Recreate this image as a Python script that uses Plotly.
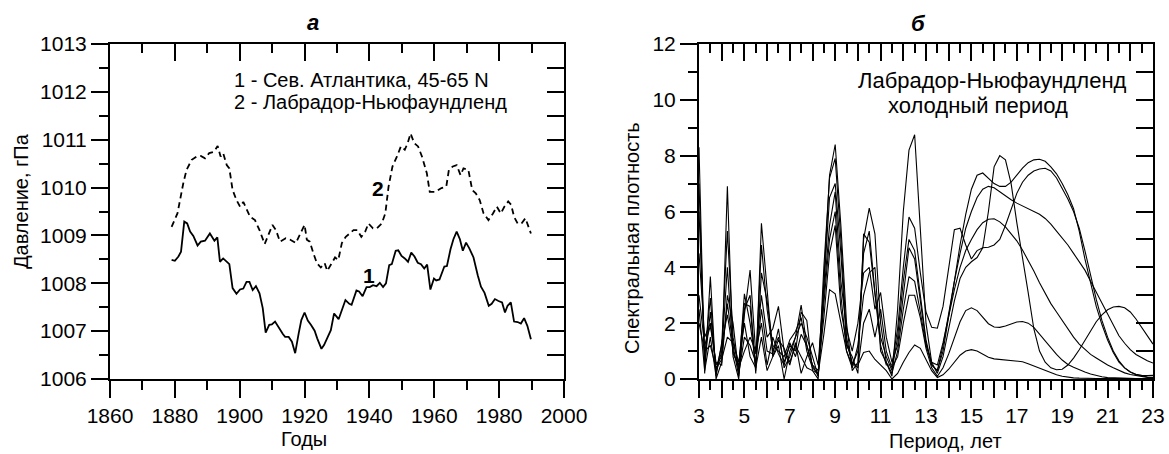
import plotly.graph_objects as go

# ---------------- Panel а: pressure series ----------------
years_1 = [1879.0, 1880.0, 1881.1, 1881.9, 1882.9, 1883.8, 1884.7, 1885.7, 1887.0, 1888.0,
           1889.3, 1890.8, 1892.2, 1893.1, 1893.9, 1894.9, 1896.8, 1897.8, 1899.0, 1900.1,
           1901.1, 1902.1, 1903.0, 1904.0, 1905.0, 1906.1, 1907.1, 1908.0, 1909.1, 1909.9,
           1910.9, 1912.3, 1913.3, 1914.0, 1915.1, 1916.1, 1917.1, 1918.2, 1919.0, 1920.0,
           1921.0, 1922.0, 1923.1, 1923.9, 1925.2, 1926.0, 1927.0, 1928.1, 1929.1, 1930.5,
           1932.6, 1933.8, 1934.5, 1936.0, 1936.8, 1937.9, 1939.1, 1940.1, 1941.1, 1942.2,
           1943.2, 1944.2, 1945.1, 1946.1, 1946.9, 1948.1, 1948.9, 1949.9, 1950.9, 1951.9,
           1952.9, 1953.9, 1954.9, 1955.9, 1956.9, 1957.8, 1958.8, 1959.9, 1960.6, 1961.6,
           1963.1, 1963.9, 1965.0, 1965.9, 1966.9, 1967.9, 1968.8, 1969.8, 1970.8, 1972.1,
           1973.4, 1974.4, 1975.5, 1976.8, 1977.7, 1978.7, 1979.8, 1980.9, 1981.8, 1982.6,
           1983.6, 1984.6, 1985.7, 1986.7, 1987.7, 1988.7, 1989.8]
pressure_1 = [1008.49, 1008.47, 1008.56, 1008.66, 1009.29, 1009.25, 1009.08, 1008.99, 1008.79, 1008.87,
              1008.89, 1009.04, 1008.89, 1008.96, 1008.45, 1008.52, 1008.40, 1007.90, 1007.78, 1007.87,
              1007.89, 1008.03, 1008.03, 1007.86, 1007.94, 1007.79, 1007.48, 1006.97, 1007.13, 1007.14,
              1007.20, 1007.04, 1006.94, 1006.88, 1006.88, 1006.78, 1006.54, 1006.96, 1007.23, 1007.39,
              1007.22, 1007.13, 1007.01, 1006.85, 1006.63, 1006.71, 1006.86, 1007.02, 1007.37, 1007.25,
              1007.65, 1007.57, 1007.55, 1007.85, 1007.83, 1007.73, 1007.92, 1007.92, 1007.96, 1007.94,
              1008.01, 1007.92, 1008.00, 1008.38, 1008.40, 1008.68, 1008.69, 1008.57, 1008.52, 1008.45,
              1008.64, 1008.56, 1008.43, 1008.40, 1008.31, 1008.39, 1007.87, 1008.10, 1008.06, 1008.08,
              1008.35, 1008.36, 1008.71, 1008.92, 1009.08, 1008.92, 1008.68, 1008.85, 1008.73, 1008.54,
              1008.17, 1007.93, 1007.80, 1007.53, 1007.57, 1007.67, 1007.63, 1007.60, 1007.39, 1007.53,
              1007.60, 1007.20, 1007.19, 1007.16, 1007.27, 1007.11, 1006.83]

years_2 = [1879.0, 1880.8, 1882.6, 1883.6, 1885.2, 1886.7, 1888.0, 1889.3, 1890.6, 1892.1,
           1893.2, 1894.1, 1894.9, 1896.0, 1896.8, 1897.8, 1899.0, 1900.1, 1901.1, 1902.6,
           1903.2, 1904.7, 1906.1, 1907.7, 1908.6, 1910.1, 1911.2, 1912.4, 1914.2, 1915.6,
           1917.3, 1918.7, 1920.0, 1920.7, 1921.6, 1922.7, 1923.8, 1925.0, 1926.2, 1927.0,
           1928.0, 1929.4, 1930.4, 1931.5, 1932.7, 1933.9, 1935.1, 1936.3, 1937.5, 1938.7,
           1939.7, 1941.1, 1942.3, 1943.8, 1944.9, 1945.9, 1947.1, 1948.5, 1949.7, 1950.9,
           1951.8, 1952.7, 1953.8, 1955.0, 1956.2, 1957.7, 1958.6, 1960.4, 1962.2, 1963.7,
           1964.5, 1965.7, 1966.9, 1968.1, 1969.0, 1970.5, 1971.7, 1972.8, 1974.0, 1975.2,
           1976.7, 1978.1, 1979.3, 1980.5, 1981.6, 1982.8, 1983.7, 1984.6, 1985.7, 1986.9,
           1988.1, 1989.8]
pressure_2 = [1009.18, 1009.46, 1010.09, 1010.37, 1010.58, 1010.65, 1010.66, 1010.61, 1010.72, 1010.75,
              1010.87, 1010.65, 1010.72, 1010.47, 1010.40, 1009.95, 1009.74, 1009.60, 1009.70, 1009.46,
              1009.39, 1009.32, 1009.11, 1008.82, 1008.97, 1009.22, 1009.11, 1008.87, 1008.94, 1008.91,
              1008.84, 1009.05, 1009.22, 1008.91, 1008.87, 1008.63, 1008.42, 1008.33, 1008.42, 1008.26,
              1008.39, 1008.54, 1008.49, 1008.84, 1008.97, 1009.04, 1009.11, 1009.11, 1008.97, 1009.08,
              1009.25, 1009.15, 1009.15, 1009.25, 1009.46, 1010.02, 1010.44, 1010.65, 1010.86, 1010.79,
              1010.93, 1011.13, 1010.93, 1010.86, 1010.65, 1010.30, 1009.91, 1009.91, 1009.99, 1010.02,
              1010.37, 1010.44, 1010.47, 1010.26, 1010.40, 1010.37, 1009.95, 1009.88, 1009.74, 1009.46,
              1009.32, 1009.46, 1009.60, 1009.46, 1009.60, 1009.71, 1009.64, 1009.39, 1009.25, 1009.25,
              1009.36, 1009.04]

# ---------------- Panel б: spectral density ----------------
periods = [3.0, 3.25, 3.5, 3.75, 4.0, 4.25, 4.5, 4.75, 5.0, 5.25, 5.5, 5.75, 6.0, 6.25, 6.5, 6.75,
           7.0, 7.25, 7.5, 7.75, 8.0, 8.25, 8.5, 8.75, 9.0, 9.25, 9.5, 9.75, 10.0, 10.25, 10.5, 10.75,
           11.0, 11.25, 11.5, 11.75, 12.0, 12.25, 12.5, 12.75, 13.0, 13.25, 13.5, 13.75, 14.0, 14.25,
           14.5, 14.75, 15.0, 15.25, 15.5, 15.75, 16.0, 16.25, 16.5, 16.75, 17.0, 17.25, 17.5, 17.75,
           18.0, 18.25, 18.5, 18.75, 19.0, 19.25, 19.5, 19.75, 20.0, 20.25, 20.5, 20.75, 21.0, 21.25,
           21.5, 21.75, 22.0, 22.25, 22.5, 22.75, 23.0]

spec_1 = [8.3, 0.2, 3.67, 0.0, 0.6, 6.9, 0.8, 0.0, 2.5, 3.0, 0.2, 5.58, 3.2, 0.8, 1.2, 0.0,
          1.0, 1.5, 2.65, 1.2, 0.5, 0.1, 3.5, 7.3, 8.4, 5.5, 2.0, 0.3, 0.6, 5.0, 6.12, 5.2,
          2.0, 0.6, 0.1, 2.5, 6.0, 8.2, 8.75, 5.5, 2.0, 0.6, 0.2, 0.8, 1.8, 2.8,
          3.6, 4.0, 4.2, 4.35, 4.7, 6.0, 7.6, 8.0, 7.85, 7.0, 5.6, 4.4, 3.1, 1.8,
          1.0, 0.6, 0.4, 0.33, 0.35, 0.5, 0.75, 1.05, 1.4, 1.75, 2.05, 2.3, 2.48, 2.58,
          2.6, 2.55, 2.4, 2.15, 1.85, 1.55, 1.25]
spec_2 = [7.0, 0.5, 2.4, 0.3, 1.2, 5.3, 1.5, 0.3, 3.05, 2.0, 0.5, 4.8, 2.5, 1.0, 1.5, 0.6,
          1.2, 1.0, 2.4, 2.1, 0.3, 0.0, 4.0, 7.2, 7.9, 5.0, 1.5, 0.5, 1.0, 4.5, 5.3, 3.1,
          1.5, 0.8, 0.3, 1.5, 3.5, 5.0, 4.6, 3.0, 1.4, 0.5, 0.3, 1.0, 2.2, 3.5,
          4.8, 5.9, 6.8, 7.3, 7.38, 7.2, 7.0, 6.9, 6.9, 7.05, 7.3, 7.55, 7.75, 7.85,
          7.87, 7.8, 7.6, 7.35, 7.0, 6.6, 6.1, 5.3, 4.3, 3.4, 2.6, 1.95, 1.4, 0.95,
          0.6, 0.4, 0.25, 0.15, 0.1, 0.07, 0.06]
spec_3 = [4.5, 1.5, 2.0, 0.5, 0.8, 2.7, 1.2, 0.1, 2.3, 3.9, 0.9, 3.0, 1.5, 1.8, 2.6, 1.0,
          0.5, 1.3, 0.2, 0.8, 1.3, 0.5, 3.3, 6.5, 7.0, 4.5, 1.2, 0.8, 0.2, 5.2, 4.9, 3.0,
          1.2, 0.5, 0.5, 1.8, 4.0, 5.8, 5.4, 3.8, 2.4, 1.85, 1.82, 2.6, 4.0, 5.35,
          5.4, 4.8, 4.3, 4.6, 4.7, 4.72, 4.8, 5.0, 5.5, 6.1, 6.65, 7.05, 7.3, 7.45,
          7.52, 7.55, 7.45, 7.2, 6.85, 6.45, 6.0, 5.4, 4.6, 3.7, 2.85, 2.1, 1.5, 1.0,
          0.65, 0.4, 0.25, 0.17, 0.13, 0.12, 0.13]
spec_4 = [6.0, 0.8, 2.9, 0.2, 1.0, 4.0, 0.9, 0.5, 2.7, 2.6, 0.3, 3.8, 2.8, 1.2, 1.0, 0.8,
          1.4, 1.7, 2.2, 1.0, 0.4, 0.2, 3.0, 5.5, 6.7, 3.5, 1.8, 1.0, 2.0, 3.8, 4.0, 2.5,
          3.1, 1.5, 0.6, 1.2, 3.0, 4.7, 4.3, 2.8, 1.3, 0.5, 0.3, 1.2, 2.4, 3.5,
          4.5, 5.4, 6.0, 6.5, 6.8, 6.9, 6.85, 6.7, 6.55, 6.42, 6.3, 6.2, 6.1, 6.0,
          5.9, 5.75, 5.55, 5.3, 5.05, 4.8, 4.5, 4.2, 3.9, 3.5, 3.1, 2.7, 2.3, 1.9,
          1.55, 1.28, 1.05, 0.88, 0.75, 0.65, 0.57]
spec_5 = [3.0, 1.2, 1.9, 0.6, 0.5, 3.0, 2.0, 0.2, 1.5, 1.2, 0.6, 2.5, 1.0, 0.9, 1.8, 0.4,
          0.8, 1.5, 2.0, 1.5, 0.8, 0.1, 2.7, 5.0, 6.0, 3.0, 1.0, 0.4, 1.2, 3.0, 3.8, 4.0,
          1.0, 0.6, 0.2, 1.0, 2.5, 3.67, 3.5, 2.4, 1.2, 0.6, 0.5, 1.3, 2.3, 3.2,
          4.0, 4.6, 5.0, 5.35, 5.6, 5.72, 5.74, 5.63, 5.45, 5.22, 4.95, 4.62, 4.25, 3.87,
          3.45, 3.05, 2.7, 2.4, 2.1, 1.8, 1.5, 1.25, 1.05, 0.88, 0.75, 0.62, 0.5, 0.4,
          0.3, 0.22, 0.16, 0.12, 0.09, 0.06, 0.05]
spec_6 = [2.5, 0.3, 1.5, 0.1, 1.3, 2.3, 1.0, 0.4, 1.0, 1.5, 1.0, 2.0, 0.5, 1.5, 0.9, 0.5,
          1.3, 0.8, 1.6, 1.2, 0.5, 0.3, 2.2, 4.5, 5.5, 2.5, 1.3, 0.6, 0.4, 2.0, 2.5, 1.5,
          2.5, 1.0, 0.4, 0.8, 2.0, 3.0, 3.0, 2.2, 1.1, 0.4, 0.1, 0.4, 0.9, 1.5,
          2.05, 2.45, 2.55, 2.45, 2.2, 1.98, 1.86, 1.85, 1.9, 1.98, 2.04, 2.06, 2.0, 1.85,
          1.6, 1.35, 1.1, 0.88, 0.68, 0.52, 0.42, 0.33, 0.25, 0.18, 0.12, 0.08, 0.05, 0.04,
          0.03, 0.02, 0.02, 0.02, 0.02, 0.02, 0.02]
spec_7 = [2.0, 1.0, 1.2, 0.4, 0.7, 1.5, 1.3, 0.6, 2.0, 0.8, 0.4, 1.5, 0.3, 0.8, 1.4, 1.1,
          0.6, 1.2, 0.8, 0.4, 0.3, 0.2, 1.6, 3.2, 3.05, 2.0, 1.0, 0.5, 0.5, 0.95, 1.0, 0.7,
          0.5, 0.3, 0.0, 0.2, 0.6, 0.95, 1.22, 1.1, 0.7, 0.3, 0.05, 0.15, 0.35, 0.6,
          0.85, 1.0, 1.05, 1.0, 0.88, 0.78, 0.72, 0.7, 0.69, 0.68, 0.66, 0.62, 0.55, 0.47,
          0.38, 0.3, 0.22, 0.15, 0.1, 0.06, 0.04, 0.03, 0.02, 0.02, 0.02, 0.02, 0.02, 0.02,
          0.02, 0.02, 0.02, 0.02, 0.02, 0.02, 0.02]
spectra = [spec_1, spec_2, spec_3, spec_4, spec_5, spec_6, spec_7]

x_ticks_b = [3, 4, 5, 6, 7, 8, 9, 10, 11, 12, 13, 14, 15, 16, 17, 18, 19, 20, 21, 22, 23]
x_text_b = ["3", "", "5", "", "7", "", "9", "", "11", "", "13", "", "15", "", "17", "", "19", "", "21", "", "23"]

# ---------------- figure ----------------
W, H = 1169, 454
FONT = "Liberation Sans, Arial, sans-serif"

def px(x):
    return x / W

def py(y):
    return 1 - y / H

fig = go.Figure()

fig.add_trace(go.Scatter(x=years_2, y=pressure_2, mode="lines",
                         line=dict(color="black", width=1.8, dash="6px,4px"),
                         xaxis="x", yaxis="y", showlegend=False))
fig.add_trace(go.Scatter(x=years_1, y=pressure_1, mode="lines",
                         line=dict(color="black", width=1.8),
                         xaxis="x", yaxis="y", showlegend=False))
for s in spectra:
    fig.add_trace(go.Scatter(x=periods, y=s, mode="lines",
                             line=dict(color="black", width=1.1),
                             xaxis="x2", yaxis="y2", showlegend=False))
# dummy traces so the mirrored (top / right) axes are drawn
fig.add_trace(go.Scatter(x=[None], y=[None], xaxis="x3", yaxis="y3", showlegend=False, hoverinfo="skip"))
fig.add_trace(go.Scatter(x=[None], y=[None], xaxis="x4", yaxis="y4", showlegend=False, hoverinfo="skip"))

dom_a = [px(110), px(564)]
dom_b = [px(699), px(1153)]
dom_y = [py(379), py(44)]

common = dict(showgrid=False, zeroline=False, showline=True, linecolor="black", linewidth=2,
              tickcolor="black", tickwidth=2, ticklen=17, automargin=False,
              tickfont=dict(family=FONT, size=21, color="black"))

def minor(t0, dt, ticks, ln):
    return dict(tick0=t0, dtick=dt, ticks=ticks, ticklen=ln, tickwidth=2, tickcolor="black", showgrid=False)

fig.update_layout(
    width=W, height=H,
    margin=dict(l=0, r=0, t=0, b=0, autoexpand=False),
    paper_bgcolor="white", plot_bgcolor="white",
    font=dict(family=FONT, color="black"),
    xaxis=dict(domain=dom_a, anchor="y", range=[1860, 2000], tick0=1860, dtick=20,
               ticks="outside", minor=minor(1860, 10, "outside", 9), **common),
    xaxis3=dict(overlaying="x", anchor="y", side="top", range=[1860, 2000], tick0=1860, dtick=20,
                ticks="inside", showticklabels=False, minor=minor(1860, 10, "inside", 9), **common),
    yaxis=dict(domain=dom_y, anchor="x", range=[1006, 1013], tick0=1006, dtick=1,
               ticks="outside", minor=minor(1006, 0.5, "outside", 9), **common),
    yaxis3=dict(overlaying="y", anchor="x", side="right", range=[1006, 1013], tick0=1006, dtick=1,
                ticks="inside", showticklabels=False, minor=minor(1006, 0.5, "inside", 17), **common),
    xaxis2=dict(domain=dom_b, anchor="y2", range=[3, 23], tickmode="array",
                tickvals=x_ticks_b, ticktext=x_text_b, ticks="outside",
                minor=minor(3, 0.5, "outside", 9), **common),
    xaxis4=dict(overlaying="x2", anchor="y2", side="top", range=[3, 23], tickmode="array",
                tickvals=x_ticks_b, ticks="inside", showticklabels=False,
                minor=minor(3, 0.5, "inside", 9), **common),
    yaxis2=dict(domain=dom_y, anchor="x2", range=[0, 12], tick0=0, dtick=2,
                ticks="outside", minor=minor(0, 1, "outside", 9), **common),
    yaxis4=dict(overlaying="y2", anchor="x2", side="right", range=[0, 12], tick0=0, dtick=2,
                ticks="inside", showticklabels=False, minor=minor(0, 1, "inside", 17), **common),
)

def note(text, x, y, size=20, xanchor="center", angle=0):
    fig.add_annotation(text=text, x=px(x), y=py(y), xref="paper", yref="paper",
                       xanchor=xanchor, yanchor="middle", showarrow=False, textangle=angle,
                       font=dict(family=FONT, size=size, color="black"))

note("<b><i>а</i></b>", 313, 22, size=22)
note("<b><i>б</i></b>", 918, 24, size=22)
note("1 - Сев. Атлантика, 45-65 N", 232, 80, size=20, xanchor="left")
note("2 - Лабрадор-Ньюфаундленд", 232, 102, size=20, xanchor="left")
note("<b>2</b>", 378, 188, size=21)
note("<b>1</b>", 369, 275, size=21)
note("Лабрадор-Ньюфаундленд", 992, 81, size=22)
note("холодный период", 978, 105, size=22)
note("Годы", 304, 439, size=20)
note("Период, лет", 945, 441, size=20)
note("Давление, гПа", 21, 201, size=20, angle=-90)
note("Спектральная плотность", 632, 238, size=20, angle=-90)

fig.write_html("out.html")
